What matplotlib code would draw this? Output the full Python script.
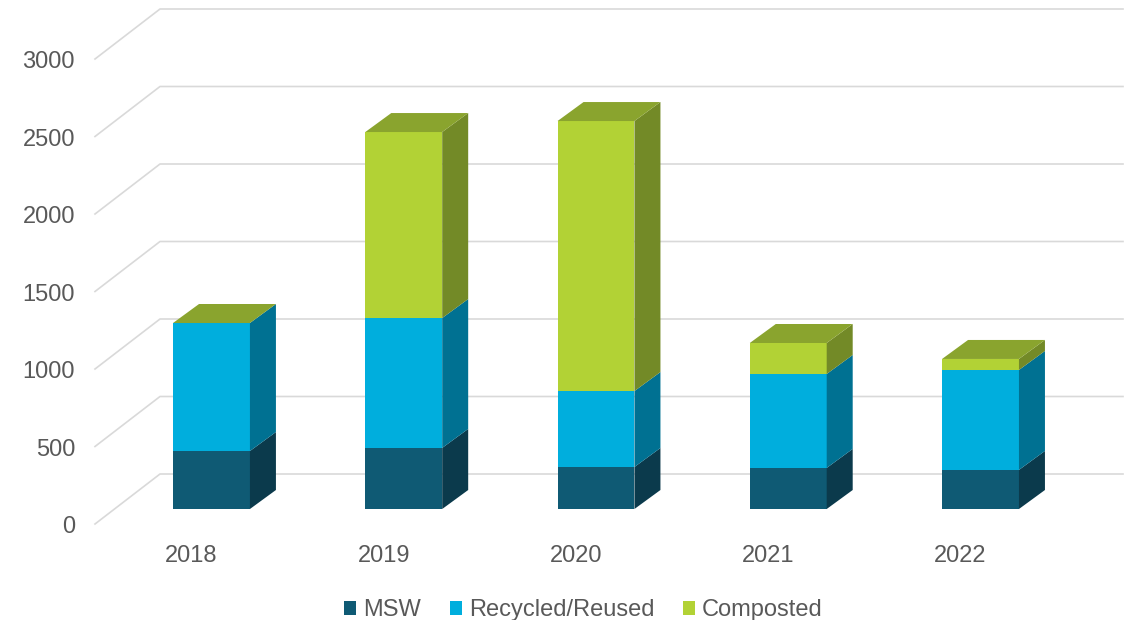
import matplotlib
matplotlib.use("Agg")
import matplotlib.pyplot as plt
from matplotlib.patches import Polygon, Patch
from matplotlib.lines import Line2D
from matplotlib.transforms import IdentityTransform
import numpy as np

# ---- data -------------------------------------------------------------
years = ["2018", "2019", "2020", "2021", "2022"]
msw = [374, 394, 271, 265, 252]
recycled = [826, 838, 490, 606, 645]
composted = [0, 1200, 1742, 200, 71]
series_names = ["MSW", "Recycled/Reused", "Composted"]
y_ticks = [0, 500, 1000, 1500, 2000, 2500, 3000]

# ---- styling ----------------------------------------------------------
front_colors = ["#0F5A74", "#00AEDD", "#B2D235"]
side_colors = ["#0B3A4C", "#007192", "#738A27"]
top_colors = ["#0D4A60", "#0090B8", "#8AA42E"]
grid_color = "#D9D9D9"
text_color = "#595959"
font = "Liberation Sans"

DPI = 100
W, H = 1127, 620
DEPTH = np.array([26.0, 19.0])      # oblique depth of each bar, in pixels
BAR_W = 0.4                         # bar width in category units

fig = plt.figure(figsize=(W / DPI, H / DPI), dpi=DPI)
ax = fig.add_axes([0, 0, 1, 1])
ax.set_xlim(-1.1, 4.762)
ax.set_ylim(-716.1, 3283.9)
ax.axis("off")

disp = IdentityTransform()


def px(x, v):
    return ax.transData.transform((x, v))


# ---- walls / gridlines ------------------------------------------------
x_front, x_back, x_right = 95, 160, 1123
for v in y_ticks:
    y0 = px(0, v)[1]
    ax.add_line(Line2D([x_front, x_back, x_right], [y0 - 15, y0 + 35, y0 + 35],
                       transform=disp, color=grid_color, lw=1.2, zorder=1))
    ax.text(75, y0 - 18, str(v), transform=disp, ha="right", va="center",
            fontsize=17, color=text_color, family=font)

# ---- stacked 3D bars --------------------------------------------------
stack = np.array([msw, recycled, composted], dtype=float)
for i, year in enumerate(years):
    bottom = 0.0
    for s in range(stack.shape[0]):
        val = stack[s, i]
        top = bottom + val
        bl = px(i - BAR_W / 2, bottom)
        br = px(i + BAR_W / 2, bottom)
        tl = px(i - BAR_W / 2, top)
        tr = px(i + BAR_W / 2, top)
        if val > 0:
            ax.add_patch(Polygon([bl, br, tr, tl], closed=True, transform=disp,
                                 facecolor=front_colors[s], edgecolor="none",
                                 zorder=3))
            ax.add_patch(Polygon([br, tr, tr + DEPTH, br + DEPTH], closed=True,
                                 transform=disp, facecolor=side_colors[s],
                                 edgecolor="none", zorder=3))
        if s == stack.shape[0] - 1:
            ax.add_patch(Polygon([tl, tr, tr + DEPTH, tl + DEPTH], closed=True,
                                 transform=disp, facecolor=top_colors[s],
                                 edgecolor="none", zorder=3))
        bottom = top
    cx = px(i, 0)
    ax.text(cx[0] - 20, cx[1] - 47, year, transform=disp, ha="center",
            va="center", fontsize=17, color=text_color, family=font)

# ---- legend -----------------------------------------------------------
handles = [Patch(facecolor=c, edgecolor="none") for c in front_colors]
fig.legend(handles, series_names, loc="center", bbox_to_anchor=(583.5 / W, 10 / H),
           ncol=3, frameon=False, handlelength=0.52, handleheight=0.52,
           handletextpad=0.3, columnspacing=1.2,
           prop={"family": font, "size": 17}, labelcolor=text_color)

fig.savefig("out.png", dpi=DPI)
